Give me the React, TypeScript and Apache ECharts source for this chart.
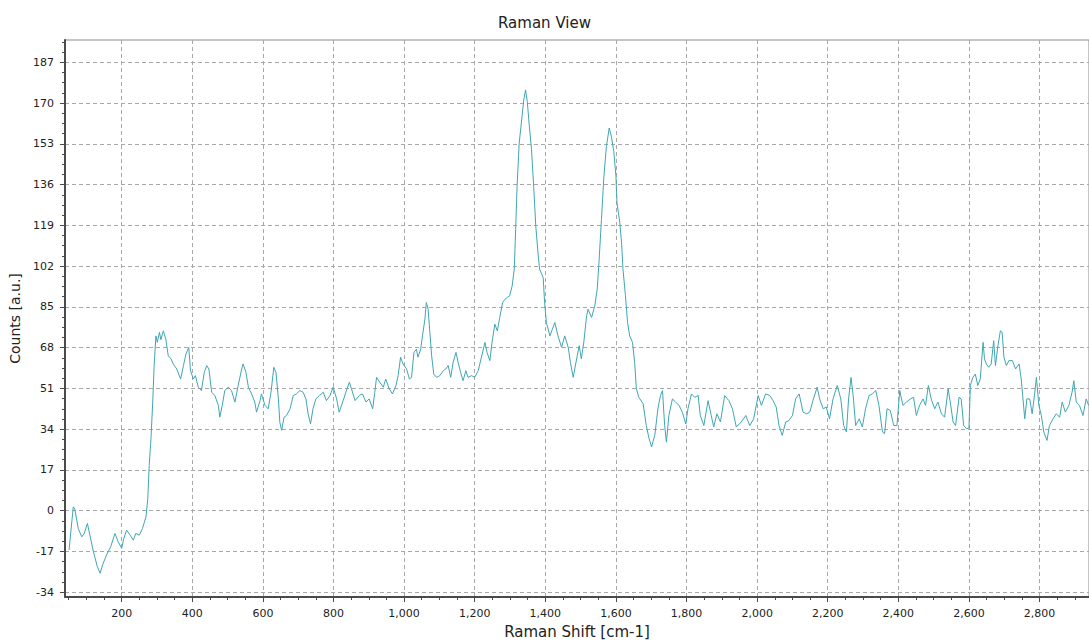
import React, { useEffect, useRef } from "react";
import * as echarts from "echarts";

const ramanShift = [
  51, 63, 67, 77, 87, 94, 103, 110, 120, 131, 139, 146, 157, 169, 181, 190, 200, 206, 214, 224,
  233, 240, 250, 259, 269, 274, 278, 283, 288, 292, 297, 301, 307, 311, 318, 325, 332, 340, 346, 356,
  367, 375, 382, 390, 395, 403, 409, 417, 426, 434, 441, 447, 455, 464, 474, 478, 485, 492, 502, 511,
  521, 530, 540, 544, 552, 559, 568, 577, 582, 592, 596, 606, 615, 623, 631, 637, 644, 648, 653, 660,
  667, 677, 686, 695, 705, 714, 722, 728, 735, 742, 750, 760, 771, 780, 790, 799, 809, 816, 826, 835,
  845, 851, 861, 873, 882, 892, 901, 911, 917, 922, 931, 941, 948, 958, 967, 977, 983, 990, 997, 1007,
  1015, 1021, 1028, 1035, 1039, 1047, 1052, 1059, 1063, 1068, 1073, 1078, 1084, 1092, 1101, 1111, 1118, 1125, 1132, 1139,
  1147, 1153, 1160, 1167, 1175, 1181, 1191, 1200, 1210, 1219, 1229, 1235, 1243, 1249, 1257, 1264, 1271, 1279, 1286, 1293,
  1299, 1306, 1312, 1316, 1320, 1326, 1333, 1339, 1344, 1349, 1354, 1361, 1367, 1373, 1380, 1384, 1394, 1398, 1403, 1413,
  1420, 1427, 1436, 1446, 1455, 1465, 1471, 1479, 1486, 1496, 1502, 1509, 1517, 1521, 1531, 1540, 1547, 1552, 1559, 1566,
  1573, 1581, 1587, 1594, 1600, 1603, 1611, 1616, 1620, 1627, 1633, 1639, 1647, 1653, 1658, 1665, 1668, 1677, 1686, 1694,
  1701, 1710, 1719, 1726, 1732, 1738, 1743, 1750, 1760, 1769, 1779, 1788, 1798, 1804, 1814, 1823, 1833, 1839, 1849, 1861,
  1870, 1877, 1886, 1896, 1908, 1920, 1930, 1941, 1955, 1968, 1979, 1990, 2003, 2012, 2024, 2036, 2045, 2054, 2062, 2071,
  2081, 2090, 2100, 2109, 2119, 2130, 2140, 2149, 2158, 2170, 2177, 2187, 2196, 2205, 2215, 2227, 2237, 2245, 2253, 2259,
  2266, 2272, 2279, 2289, 2298, 2307, 2317, 2326, 2336, 2345, 2355, 2361, 2368, 2377, 2387, 2396, 2404, 2413, 2423, 2434,
  2443, 2451, 2460, 2470, 2477, 2485, 2493, 2503, 2512, 2522, 2531, 2541, 2547, 2555, 2562, 2572, 2578, 2585, 2593, 2600,
  2604, 2611, 2618, 2625, 2632, 2640, 2644, 2649, 2656, 2663, 2670, 2675, 2682, 2689, 2694, 2699, 2706, 2713, 2723, 2732,
  2742, 2748, 2753, 2758, 2764, 2772, 2779, 2786, 2791, 2798, 2805, 2812, 2821, 2828, 2838, 2847, 2857, 2864, 2873, 2883,
  2892, 2897, 2904, 2913, 2923, 2932, 2939,
];

const counts = [
  -16.4, 1.6, 0.8, -7.4, -10.9, -9.5, -5.3, -10.2, -17.1, -23.3, -26.1, -22.6, -18.5, -15, -9.5, -12.9, -15.7, -11.6, -8.1, -10.2,
  -12.3, -9.5, -10.2, -7.4, -2.5, 5.1, 18.9, 30, 45.3, 60.5, 72.9, 70.2, 74.4, 71.3, 75, 71.6, 64.6, 63.3, 61.2, 59.1,
  54.9, 60.5, 65.3, 68.1, 58.4, 54.9, 56.3, 51.5, 50.1, 57.7, 60.5, 59.1, 49.4, 48, 43.9, 39, 43.9, 50.1, 51.5, 50.1,
  45.3, 52.2, 59.1, 61.2, 57.7, 51.5, 48.7, 45.3, 41.1, 45.9, 48.7, 43.9, 42.5, 49.4, 59.8, 57.7, 46.6, 36.9, 33.5, 39,
  39.7, 42.5, 48, 48.7, 50.1, 49.4, 46.6, 40.4, 36.2, 42.5, 46.6, 48, 49.4, 45.9, 48, 51.5, 46.6, 41.1, 45.3, 49.4,
  53.6, 50.8, 45.9, 48, 48.7, 45.3, 46.6, 42.5, 49.4, 55.6, 53.6, 51.5, 54.9, 50.8, 48.7, 52.2, 56.3, 64, 61.2, 59.1,
  54.9, 55.6, 66, 67.4, 64, 67.4, 72.9, 79.9, 86.8, 84, 74.4, 64.6, 57, 55.6, 56.3, 58.4, 59.1, 60.5, 55.6, 61.9,
  66, 61.9, 57.7, 54.2, 58.4, 55.6, 56.3, 55.6, 58.4, 64, 70.2, 66, 62.6, 70.2, 77.8, 75, 80.6, 86.8, 88.2, 89,
  89.6, 93.7, 100.7, 117.3, 135.3, 153.3, 163, 171.3, 175.5, 170.6, 161.6, 150.5, 135.3, 118.7, 106.2, 100.7, 97.2, 86.8, 78.5, 72.9,
  75.7, 78.5, 72.9, 68.1, 72.9, 68.1, 61.9, 55.6, 61.2, 68.8, 63.3, 70.2, 81.3, 84, 80.6, 85.4, 92.4, 103.5, 121.4, 139.5,
  151.9, 159.6, 156.1, 149.8, 139.5, 128.4, 120.1, 111.8, 100.7, 89.6, 78.5, 72.9, 70.2, 61.9, 50.8, 47.3, 46.6, 44.6, 35.5, 30,
  26.6, 31.4, 42.5, 48, 50.1, 35.5, 28.6, 39.7, 46.6, 45.3, 43.9, 41.1, 36.2, 42.5, 48.7, 47.3, 48, 39.7, 35.5, 45.9,
  39.7, 34.9, 40.4, 37, 48, 45.9, 42.5, 34.9, 37, 39.7, 35.5, 38.3, 48, 43.9, 48.7, 48, 45.9, 43.2, 35.5, 31.4,
  37, 37.6, 39.7, 46.6, 48.7, 41.1, 40.4, 41.1, 45.9, 51.5, 46.6, 42.5, 43.2, 38.3, 46.6, 52.2, 46.6, 35.5, 32.8, 46.6,
  55.6, 48, 35.5, 38.3, 34.9, 42.5, 48, 48.7, 50.1, 43.9, 32.8, 32.1, 42.5, 41.8, 35.5, 35.5, 50.1, 43.9, 45.3, 46.6,
  47.3, 39.7, 43.9, 46.6, 43.9, 52.2, 46.6, 42.5, 45.3, 40.4, 39, 50.8, 45.3, 37, 35.5, 47.3, 46.6, 35.5, 34.2, 34.5,
  52.2, 55.6, 57, 52.2, 54.9, 70.2, 63.3, 61.2, 59.8, 61.2, 70.9, 60.5, 68.8, 75, 74.4, 64, 60.5, 62.6, 62.6, 59.1,
  61.2, 54.9, 46.6, 38.3, 46.6, 46.6, 40.4, 48.7, 55.6, 43.9, 39.7, 32.8, 29.3, 35.5, 38.3, 40.4, 39, 45.3, 41.1, 43.9,
  49.4, 54.2, 45.3, 43.9, 39.7, 46.6, 43.9,
];

const xTickValues = [200, 400, 600, 800, 1000, 1200, 1400, 1600, 1800, 2000, 2200, 2400, 2600, 2800];
const yTickValues = [-34, -17, 0, 17, 34, 51, 68, 85, 102, 119, 136, 153, 170, 187];

const X_MIN = 39.5;
const X_MAX = 2940;
const Y_MIN = -36;
const Y_MAX = 196.3;

const xMinorValues: number[] = [];
for (let v = 50; v < X_MAX; v += 50) xMinorValues.push(v);
const yMinorValues: number[] = [];
for (let v = -34; v < Y_MAX; v += 4.25) yMinorValues.push(Math.round(v * 100) / 100);

const FONT = "DejaVu Sans";
const AXIS_COLOR = "#4a4a4a";

export default function App() {
  const ref = useRef<HTMLDivElement>(null);

  useEffect(() => {
    if (!ref.current) return;
    const chart = echarts.init(ref.current, undefined, { renderer: "svg" });
    const data = ramanShift.map((x, i) => [x, counts[i]]);
    chart.setOption({
      animation: false,
      backgroundColor: "#ffffff",
      title: {
        text: "Raman View",
        left: "center",
        top: 10,
        textStyle: { fontFamily: FONT, fontSize: 15, fontWeight: "normal", color: "#222" },
      },
      grid: {
        left: 65,
        right: 0,
        top: 40,
        bottom: 45,
        show: true,
        borderColor: "#8a8a8a",
        borderWidth: 1,
        backgroundColor: "transparent",
      },
      xAxis: [
        {
          type: "value",
          min: X_MIN,
          max: X_MAX,
          position: "bottom",
          name: "Raman Shift [cm-1]",
          nameLocation: "middle",
          nameGap: 27,
          nameTextStyle: { fontFamily: FONT, fontSize: 15, color: "#222" },
          axisLine: { show: true, onZero: false, lineStyle: { color: AXIS_COLOR, width: 2 } },
          axisTick: { show: true, customValues: xTickValues, length: 5, inside: false, lineStyle: { color: AXIS_COLOR } },
          axisLabel: {
            customValues: xTickValues,
            margin: 11,
            fontFamily: FONT,
            fontSize: 11,
            color: "#222",
            formatter: (v: number) => v.toLocaleString("en-US"),
          },
          splitLine: { show: true, lineStyle: { color: "#a8a8a8", type: [4, 3], width: 1 } },
        },
        {
          type: "value",
          min: X_MIN,
          max: X_MAX,
          position: "bottom",
          axisLine: { show: false, onZero: false },
          axisTick: { show: true, customValues: xMinorValues, length: 3, lineStyle: { color: AXIS_COLOR } },
          axisLabel: { show: false },
          splitLine: { show: false },
        },
      ],
      yAxis: [
        {
          type: "value",
          min: Y_MIN,
          max: Y_MAX,
          position: "left",
          name: "Counts [a.u.]",
          nameLocation: "middle",
          nameGap: 40,
          nameTextStyle: { fontFamily: FONT, fontSize: 14, color: "#222" },
          axisLine: { show: true, onZero: false, lineStyle: { color: AXIS_COLOR, width: 2 } },
          axisTick: { show: true, customValues: yTickValues, length: 5, lineStyle: { color: AXIS_COLOR } },
          axisLabel: {
            customValues: yTickValues,
            margin: 11,
            fontFamily: FONT,
            fontSize: 11,
            color: "#222",
          },
          splitLine: { show: true, lineStyle: { color: "#a8a8a8", type: [4, 3], width: 1 } },
        },
        {
          type: "value",
          min: Y_MIN,
          max: Y_MAX,
          position: "left",
          axisLine: { show: false, onZero: false },
          axisTick: { show: true, customValues: yMinorValues, length: 3, lineStyle: { color: AXIS_COLOR } },
          axisLabel: { show: false },
          splitLine: { show: false },
        },
      ],
      series: [
        {
          type: "line",
          xAxisIndex: 0,
          yAxisIndex: 0,
          data,
          showSymbol: false,
          symbol: "none",
          lineStyle: { color: "#3fa6b3", width: 1 },
          itemStyle: { color: "#3fa6b3" },
        },
      ],
    });
    return () => chart.dispose();
  }, []);

  return (
    <div
      ref={ref}
      style={{ position: "fixed", left: 0, top: 0, width: 1089, height: 644, background: "#fff" }}
    />
  );
}
